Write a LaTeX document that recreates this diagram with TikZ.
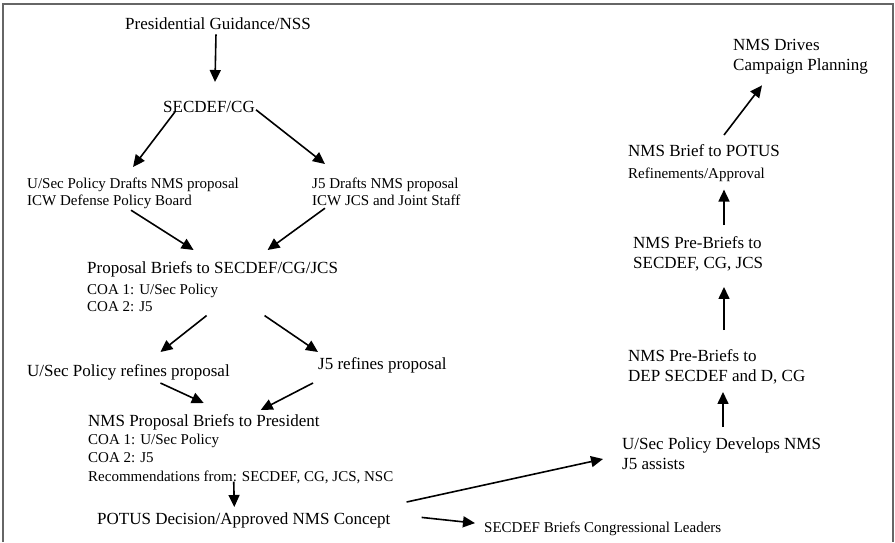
\documentclass[tikz,border=0pt]{standalone}
\usepackage{fontspec}
\setmainfont{Liberation Serif}
\usetikzlibrary{positioning,arrows.meta}
\newcommand{\minor}[1]{{\fontsize{15}{17}\selectfont #1}}

\begin{document}
\begin{tikzpicture}[
  x=1pt, y=1pt,
  lbl/.style={anchor=north west, inner sep=0pt, align=left, font=\fontsize{17}{20}\selectfont},
  slbl/.style={lbl, font=\fontsize{15}{17}\selectfont},
  arr/.style={-{Triangle[length=12pt, width=11pt]}, line width=1.6pt},
  frame/.style={draw=black!60, line width=1.6pt}
]
\useasboundingbox (0,0) rectangle (895,-542);
% ================= frame, open at the bottom =================
\draw[frame] (3,-542) -- (3,-4) -- (893,-4) -- (893,-542);
% ================= left column: drafting the proposal =================
\node[lbl]  (pres)   at (125,-17) {Presidential Guidance/NSS};
\node[lbl]  (secdef) at (163,-101) {SECDEF/CG};
\node[slbl] (usd)    at (27,-178) {U/Sec Policy Drafts NMS proposal\\ICW Defense Policy Board};
\node[slbl] (j5d)    at (312,-178) {J5 Drafts NMS proposal\\ICW JCS and Joint Staff};
\node[lbl]  (brief)  at (87,-261)
  {Proposal Briefs to SECDEF/CG/JCS\\[1pt]\minor{COA 1: U/Sec Policy}\\[-3pt]\minor{COA 2: J5}};
\node[lbl]  (usr)    at (27,-364) {U/Sec Policy refines proposal};
\node[lbl]  (j5r)    at (318,-357) {J5 refines proposal};
\node[lbl]  (nmsp)   at (88,-414)
  {NMS Proposal Briefs to President\\[-2pt]\minor{COA 1: U/Sec Policy}\\[-2pt]\minor{COA 2: J5}\\[-1pt]
   \minor{Recommendations from: SECDEF, CG, JCS, NSC}};
\node[lbl]  (potus)  at (97,-512) {POTUS Decision/Approved NMS Concept};
\node[slbl] (cong)   at (484,-522) {SECDEF Briefs Congressional Leaders};
% ================= right column: developing the NMS =================
\node[lbl]  (usdev)  at (622,-437) {U/Sec Policy Develops NMS\\J5 assists};
\node[lbl]  (dep)    at (628,-349) {NMS Pre-Briefs to\\DEP SECDEF and D, CG};
\node[lbl]  (pre)    at (633,-236) {NMS Pre-Briefs to\\SECDEF, CG, JCS};
\node[lbl]  (potb)   at (628,-144) {NMS Brief to POTUS\\[2pt]\minor{Refinements/Approval}};
\node[lbl]  (drives) at (733,-39) {NMS Drives\\Campaign Planning};
% ----- left column arrows -----
\draw[arr] ([shift={(-2,-5)}]pres.south) -- ([shift={(6,19)}]secdef.north);
\draw[arr] ([shift={(12,1)}]secdef.south west) -- ([shift={(0,11)}]usd.north);
\draw[arr] ([shift={(1,3)}]secdef.south east) -- ([shift={(13,14)}]j5d.north west);
\draw[arr] ([shift={(-2,-1)}]usd.south) -- ([shift={(-19,11)}]brief.north);
\draw[arr] ([shift={(13,-2)}]j5d.south west) -- ([shift={(55,11)}]brief.north);
\draw[arr] ([shift={(-6,-4)}]brief.south) -- ([shift={(32,12)}]usr.north);
\draw[arr] ([shift={(52,-4)}]brief.south) -- ([shift={(0,5)}]j5r.north west);
\draw[arr] ([shift={(32,-3)}]usr.south) -- ([shift={(-37,11)}]nmsp.north);
\draw[arr] ([shift={(-5,-10)}]j5r.south west) -- ([shift={(20,4)}]nmsp.north);
\draw[arr] ([shift={(-7,2)}]nmsp.south) -- ([shift={(-9.5,5)}]potus.north);
% ----- decision fans out -----
\draw[arr] ([shift={(16,10)}]potus.north east) -- ([shift={(-19,-22)}]usdev.north west);
\draw[arr] ([shift={(31,2.5)}]potus.east) -- ([shift={(-9,6)}]cong.west);
% ----- right column arrows, bottom to top -----
\draw[arr] ([shift={(101,10)}]usdev.north west) -- ([shift={(95,-8)}]dep.south west);
\draw[arr] ([shift={(96,19)}]dep.north west) -- ([shift={(91,-16)}]pre.south west);
\draw[arr] ([shift={(91,11)}]pre.north west) -- ([shift={(96,-8)}]potb.south west);
\draw[arr] ([shift={(96,9)}]potb.north west) -- ([shift={(29,-11)}]drives.south west);
\end{tikzpicture}
\end{document}
